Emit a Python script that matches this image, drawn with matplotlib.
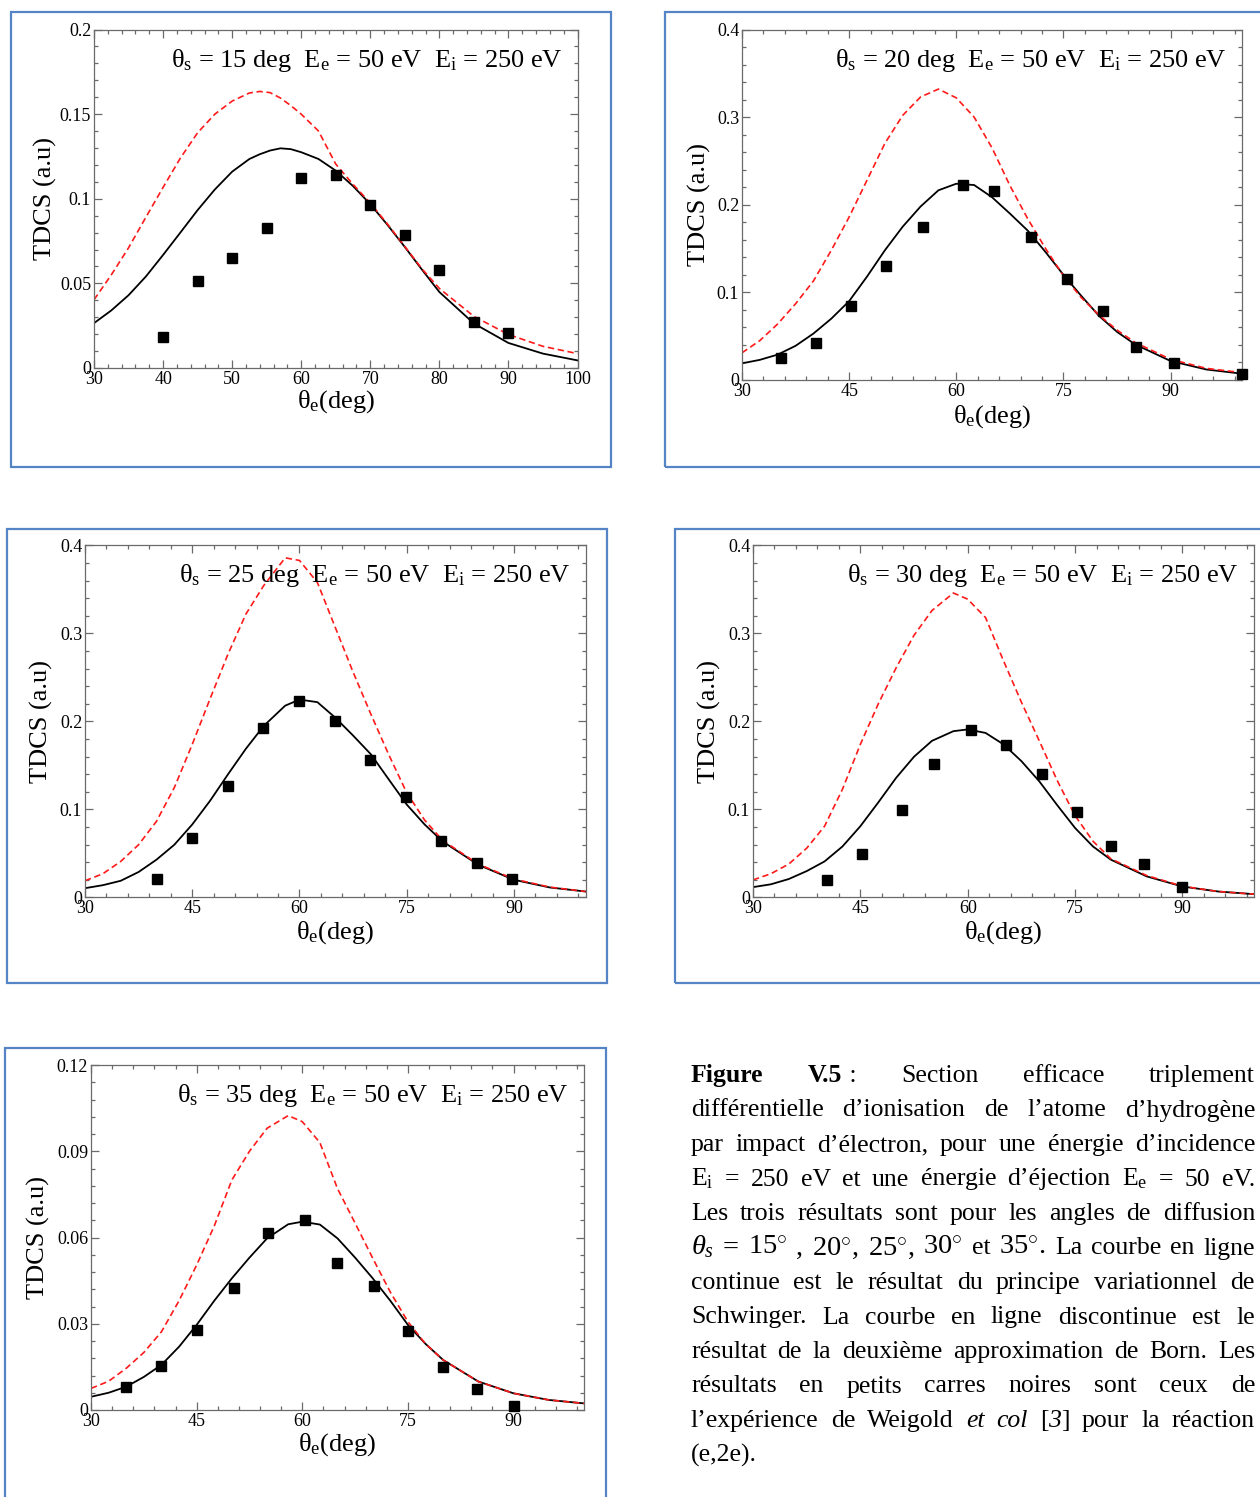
import matplotlib
matplotlib.use("Agg")
import matplotlib.pyplot as plt
from matplotlib.patches import Rectangle
from matplotlib.ticker import MultipleLocator, FuncFormatter

plt.rcParams['font.family'] = ['Liberation Serif', 'DejaVu Serif']
plt.rcParams['mathtext.fontset'] = 'custom'
plt.rcParams['mathtext.rm'] = 'Liberation Serif'
plt.rcParams['mathtext.it'] = 'Liberation Serif:italic'
plt.rcParams['mathtext.bf'] = 'Liberation Serif:bold'

W, H = 1260, 1497

# -----------------------------
# Data
# -----------------------------
# theta_s = 15 deg
th15_x = [30, 32.5, 35, 37.5, 40, 42.5, 45, 47.5, 50, 52.5, 54, 55.5, 57, 58.5, 60, 62.5, 65, 67.5, 70, 72.5, 75, 77.5, 80, 85, 90, 95, 100]
th15_svp = [0.0265, 0.034, 0.043, 0.054, 0.0668, 0.080, 0.0933, 0.1055, 0.116, 0.1235, 0.1263, 0.1285, 0.1298, 0.1293, 0.1275, 0.1235, 0.1166, 0.1075, 0.0968, 0.0845, 0.0715, 0.058, 0.0449, 0.0263, 0.0148, 0.0085, 0.0045]
th15_born = [0.0403, 0.055, 0.071, 0.089, 0.1067, 0.124, 0.139, 0.150, 0.1577, 0.1625, 0.1634, 0.1627, 0.1595, 0.155, 0.150, 0.140, 0.1205, 0.1085, 0.0975, 0.085, 0.0718, 0.0585, 0.047, 0.0305, 0.0198, 0.0128, 0.0085]
th15_exp_x = [40, 45, 50, 55, 60, 65, 70, 75, 80, 85, 90]
th15_exp_y = [0.0182, 0.0514, 0.065, 0.083, 0.112, 0.114, 0.0962, 0.0785, 0.0579, 0.0269, 0.0204]

# theta_s = 20 deg
th20_x = [30, 32.5, 35, 37.5, 40, 42.5, 45, 47.5, 50, 52.5, 55, 57.5, 60, 62.5, 65, 67.5, 70, 72.5, 75, 77.5, 80, 82.5, 85, 90, 95, 100]
th20_svp = [0.019, 0.023, 0.029, 0.039, 0.053, 0.070, 0.090, 0.118, 0.148, 0.175, 0.198, 0.2165, 0.224, 0.2225, 0.2086, 0.190, 0.1705, 0.146, 0.120, 0.096, 0.073, 0.055, 0.0408, 0.0217, 0.012, 0.0072]
th20_born = [0.031, 0.045, 0.064, 0.087, 0.113, 0.148, 0.186, 0.228, 0.270, 0.302, 0.323, 0.332, 0.322, 0.300, 0.265, 0.222, 0.184, 0.150, 0.119, 0.094, 0.074, 0.057, 0.043, 0.0236, 0.0133, 0.0084]
th20_exp_x = [35.4, 40.3, 45.2, 50.2, 55.3, 61.0, 65.3, 70.4, 75.5, 80.6, 85.2, 90.5, 100]
th20_exp_y = [0.0256, 0.042, 0.0839, 0.1297, 0.1747, 0.2223, 0.2162, 0.1632, 0.1148, 0.0793, 0.0378, 0.0191, 0.0065]

# theta_s = 25 deg
th25_x = [30, 32.5, 35, 37.5, 40, 42.5, 45, 47.5, 50, 52.5, 55, 58, 60, 62.5, 65, 67.5, 70, 72.5, 75, 77.5, 80, 85, 90, 95, 100]
th25_svp = [0.0106, 0.014, 0.019, 0.029, 0.043, 0.060, 0.083, 0.110, 0.140, 0.169, 0.195, 0.218, 0.2249, 0.222, 0.2044, 0.184, 0.1626, 0.134, 0.1056, 0.083, 0.0638, 0.0372, 0.0201, 0.0114, 0.0068]
th25_born = [0.019, 0.027, 0.041, 0.060, 0.0866, 0.125, 0.174, 0.226, 0.2766, 0.322, 0.3545, 0.386, 0.383, 0.358, 0.307, 0.256, 0.208, 0.162, 0.119, 0.088, 0.065, 0.038, 0.0209, 0.0118, 0.0068]
th25_exp_x = [40.1, 44.9, 50, 54.9, 60, 64.9, 69.8, 74.9, 79.8, 84.8, 89.7]
th25_exp_y = [0.0205, 0.068, 0.127, 0.1922, 0.2234, 0.2006, 0.1558, 0.114, 0.0642, 0.0395, 0.0205]

# theta_s = 30 deg
th30_x = [30, 32.5, 35, 37.5, 40, 42.5, 45, 47.5, 50, 52.5, 55, 58, 60, 62.5, 65, 67.5, 70, 72.5, 75, 77.5, 80, 85, 90, 95, 100]
th30_svp = [0.0118, 0.015, 0.021, 0.030, 0.041, 0.058, 0.081, 0.108, 0.136, 0.160, 0.178, 0.189, 0.191, 0.187, 0.174, 0.155, 0.132, 0.105, 0.079, 0.058, 0.043, 0.024, 0.0125, 0.0068, 0.0038]
th30_born = [0.020, 0.027, 0.038, 0.056, 0.081, 0.123, 0.174, 0.220, 0.261, 0.298, 0.326, 0.346, 0.339, 0.318, 0.269, 0.222, 0.178, 0.133, 0.093, 0.064, 0.044, 0.025, 0.0128, 0.0068, 0.0038]
th30_exp_x = [40.3, 45.2, 50.8, 55.3, 60.4, 65.4, 70.4, 75.2, 80.0, 84.7, 90.0]
th30_exp_y = [0.0194, 0.0498, 0.0995, 0.152, 0.190, 0.173, 0.140, 0.0969, 0.0589, 0.0384, 0.0118]

# theta_s = 35 deg
th35_x = [30, 32.5, 35, 37.5, 40, 42.5, 45, 47.5, 50, 52.5, 55, 58, 60, 62.5, 65, 67.5, 70, 72.5, 75, 77.5, 80, 85, 90, 95, 100]
th35_svp = [0.0046, 0.006, 0.0081, 0.0115, 0.0157, 0.022, 0.0296, 0.038, 0.0458, 0.053, 0.0597, 0.0646, 0.0655, 0.0645, 0.0597, 0.053, 0.0458, 0.038, 0.0296, 0.023, 0.0174, 0.0099, 0.0058, 0.0035, 0.0023]
th35_born = [0.0075, 0.010, 0.0145, 0.020, 0.0272, 0.038, 0.0504, 0.064, 0.080, 0.090, 0.098, 0.1024, 0.1003, 0.093, 0.077, 0.065, 0.0528, 0.041, 0.0307, 0.023, 0.0174, 0.0099, 0.0058, 0.0035, 0.0023]
th35_exp_x = [34.9, 39.9, 45, 50.3, 55.2, 60.4, 64.9, 70.2, 75, 80, 84.8, 90]
th35_exp_y = [0.0079, 0.0154, 0.0277, 0.0424, 0.0617, 0.066, 0.0512, 0.0432, 0.0274, 0.0148, 0.0073, 0.0015]

# -----------------------------
# Layout (pixel boxes)
# -----------------------------
panels = [
    # theta, x, svp, born, exp_x, exp_y, axes(l,t,r,b), frame(l,t,r,b), ymax, ymaj, ymin, xmaj, xmin, ylab_off, xlab_off
    (15, th15_x, th15_svp, th15_born, th15_exp_x, th15_exp_y, (94, 29.5, 577.5, 368), (11, 12, 611, 467), 0.2, 0.05, 0.01, 10, 2, 37, 20),
    (20, th20_x, th20_svp, th20_born, th20_exp_x, th20_exp_y, (742, 29.5, 1242, 380), (665, 12, 1275, 467), 0.4, 0.1, 0.02, 15, 3, 31, 23),
    (25, th25_x, th25_svp, th25_born, th25_exp_x, th25_exp_y, (85, 545.5, 585.5, 897.5), (7, 529, 607, 983), 0.4, 0.1, 0.02, 15, 3, 32, 22),
    (30, th30_x, th30_svp, th30_born, th30_exp_x, th30_exp_y, (753, 545.5, 1254, 897.5), (675, 529, 1275, 983), 0.4, 0.1, 0.02, 15, 3, 32, 22),
    (35, th35_x, th35_svp, th35_born, th35_exp_x, th35_exp_y, (91, 1065, 584, 1410), (5, 1048, 606, 1510), 0.12, 0.03, 0.006, 15, 3, 41, 21),
]

fig = plt.figure(figsize=(W / 100, H / 100), dpi=100)
fig.patch.set_facecolor('white')

axis_grey = '#6a6a6a'
frame_blue = '#5584c6'

for (ths, x, svp, born, ex, ey, box, frame, ymax, ymaj, ymin, xmaj, xmin, yoff, xoff) in panels:
    l, t, r, b = box
    ax = fig.add_axes([l / W, 1 - b / H, (r - l) / W, (b - t) / H])
    ax.plot(x, svp, color='black', lw=1.3)
    ax.plot(x, born, color='#ff1a1a', lw=1.2, dashes=(3.8, 2.2))
    ax.plot(ex, ey, 's', color='black', ms=7, clip_on=False, zorder=5)
    ax.set_xlim(30, 100)
    ax.set_ylim(0, ymax)
    ax.xaxis.set_major_locator(MultipleLocator(xmaj))
    ax.xaxis.set_minor_locator(MultipleLocator(xmin))
    ax.yaxis.set_major_locator(MultipleLocator(ymaj))
    ax.yaxis.set_minor_locator(MultipleLocator(ymin))
    fmt = FuncFormatter(lambda v, p: '%g' % round(v, 6))
    ax.xaxis.set_major_formatter(fmt)
    ax.yaxis.set_major_formatter(fmt)
    ax.tick_params(which='both', direction='in', top=True, right=True,
                   color=axis_grey, width=0.9, labelsize=13, pad=2)
    ax.tick_params(which='major', length=6)
    ax.tick_params(which='minor', length=3)
    for sp in ax.spines.values():
        sp.set_color(axis_grey)
        sp.set_linewidth(0.9)

    ax.set_ylabel('TDCS (a.u)', fontsize=19)
    ax.yaxis.set_label_coords(-yoff / (r - l), 0.5)
    ax.set_xlabel(r'θ$_\mathrm{e}$(deg)', fontsize=19)
    ax.xaxis.set_label_coords(0.5, -xoff / (b - t))

    ax.annotate(r'θ$_\mathrm{s}$ = %d deg  E$_\mathrm{e}$ = 50 eV  E$_\mathrm{i}$ = 250 eV' % ths,
                xy=(1, 1), xycoords='axes fraction', xytext=(-15, -37),
                textcoords='offset pixels', ha='right', va='baseline', fontsize=19)

    fl, ft, fr, fb = frame
    fig.patches.append(Rectangle((fl / W, 1 - fb / H), (fr - fl) / W, (fb - ft) / H,
                                 transform=fig.transFigure, fill=False,
                                 edgecolor=frame_blue, lw=1.6, clip_on=False))

# -----------------------------
# Caption (justified text)
# -----------------------------
N = {}
B = {'fontweight': 'bold'}
I = {'fontstyle': 'italic'}
M = {'fontsize': 20.5}


def plain(s):
    return [[(w, N)] for w in s.split()]


caption = [
    [[("Figure", B)], [("V.5", B), (" :", N)], [("Section", N)], [("efficace", N)], [("triplement", N)]],
    plain("différentielle d’ionisation de l’atome d’hydrogène"),
    plain("par impact d’électron, pour une énergie d’incidence"),
    plain(r"E$_\mathrm{i}$ = 250 eV et une énergie d’éjection E$_\mathrm{e}$ = 50 eV."),
    plain("Les trois résultats sont pour les angles de diffusion"),
    [[(r"$\theta_s$", M)], [("=", M)], [(r"15$^{\circ}$", M)], [(",", M)], [(r"20$^{\circ}$,", M)],
     [(r"25$^{\circ}$,", M)], [(r"30$^{\circ}$", M)], [("et", N)], [(r"35$^{\circ}$.", M)],
     [("La", N)], [("courbe", N)], [("en", N)], [("ligne", N)]],
    plain("continue est le résultat du principe variationnel de"),
    plain("Schwinger. La courbe en ligne discontinue est le"),
    plain("résultat de la deuxième approximation de Born. Les"),
    plain("résultats en petits carres noires sont ceux de"),
    plain("l’expérience de Weigold") + [[("et", I)], [("col", I)], [("[", N), ("3", I), ("]", N)]]
    + plain("pour la réaction"),
    plain("(e,2e)."),
]

cap_x0, cap_x1 = 691, 1255
cap_y0, cap_dy = 1082, 34.5
renderer = fig.canvas.get_renderer()

for i, line in enumerate(caption):
    y = cap_y0 + i * cap_dy
    items = []
    for word in line:
        segs = []
        for txt, kw in word:
            props = {'fontsize': 18.5, 'va': 'baseline', 'ha': 'left'}
            props.update(kw)
            tx = fig.text(0, 0, txt, **props)
            segs.append((tx, tx.get_window_extent(renderer).width))
        items.append(segs)
    widths = [sum(w for _, w in segs) for segs in items]
    last = i == len(caption) - 1
    if last or len(items) < 2:
        gap = 6
    else:
        gap = (cap_x1 - cap_x0 - sum(widths)) / (len(items) - 1)
    xp = cap_x0
    for segs, wsum in zip(items, widths):
        for tx, w in segs:
            tx.set_position((xp / W, 1 - y / H))
            xp += w
        xp += gap

fig.savefig('out.png', dpi=100)
